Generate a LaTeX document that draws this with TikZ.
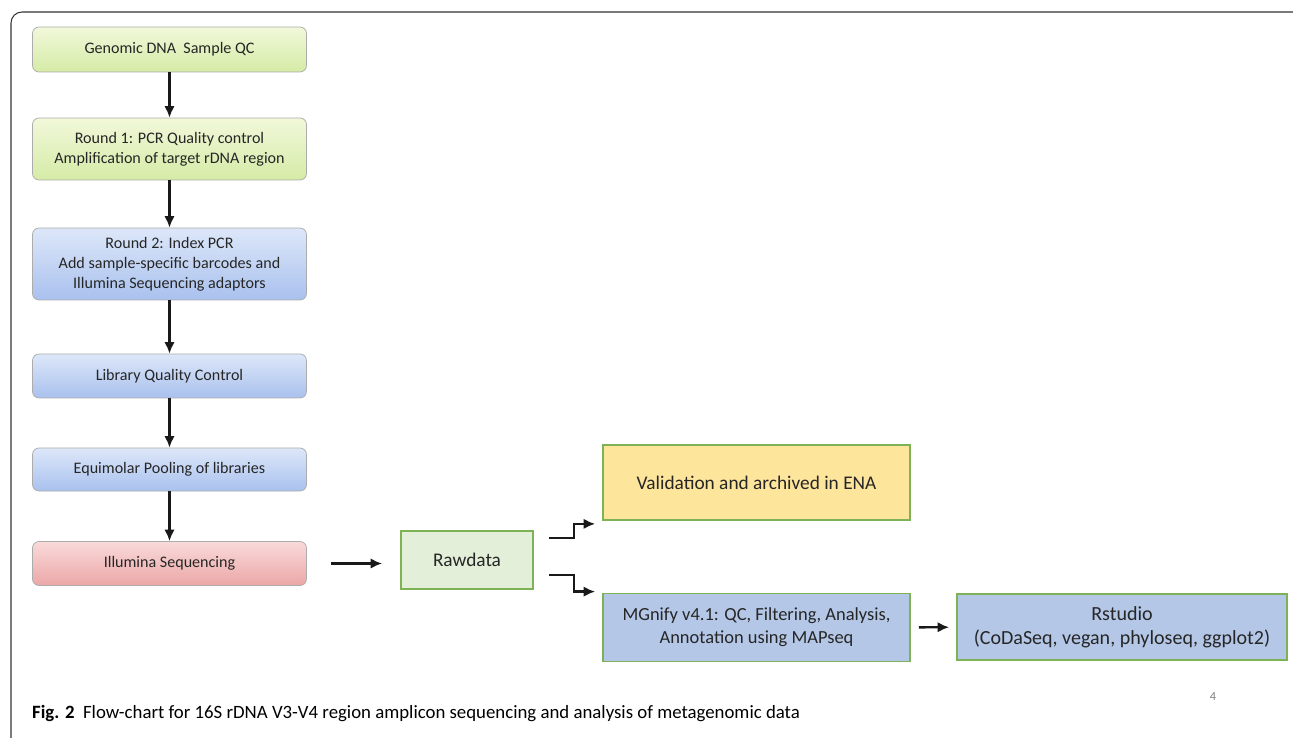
\documentclass[tikz,border=0pt]{standalone}
\usepackage{fontspec}
\setmainfont{Carlito}
\usetikzlibrary{positioning, arrows.meta}

\definecolor{stepgreenA}{HTML}{F1F8DA}
\definecolor{stepgreenB}{HTML}{D5EBA6}
\definecolor{stepblueA}{HTML}{DDE7F9}
\definecolor{stepblueB}{HTML}{A9C1EE}
\definecolor{stepredA}{HTML}{FADADA}
\definecolor{stepredB}{HTML}{EBA7A7}
\definecolor{boxgreen}{HTML}{7DB356}
\definecolor{rawfill}{HTML}{E3EFD9}
\definecolor{enafill}{HTML}{FEE59C}
\definecolor{toolfill}{HTML}{B4C7E7}

\begin{document}
\begin{tikzpicture}[>={Latex[length=2.3mm, width=2.1mm]}, line join=miter,
    every node/.style={align=center, font=\fontsize{9.15}{11.3}\selectfont, text=black!85},
    labbox/.style={draw=gray!65, rounded corners=0.13cm, minimum width=5.48cm},
    greenbox/.style={labbox, top color=stepgreenA, bottom color=stepgreenB},
    bluebox/.style={labbox, top color=stepblueA, bottom color=stepblueB},
    redbox/.style={labbox, top color=stepredA, bottom color=stepredB},
    databox/.style={draw=boxgreen, line width=1pt, font=\fontsize{11}{13.5}\selectfont},
    flow/.style={->, line width=1.4pt, black!90}]
    \useasboundingbox (0, 0) rectangle (25.86, -14.76);

    % frame
    \begin{scope}
        \clip (0, 0) rectangle (25.86, -14.76);
        \draw[line width=0.6pt, black!80, rounded corners=0.22cm] (0.22, -15) -- (0.22, -0.24) -- (26.2, -0.24) -- (26.2, -2);
    \end{scope}

    % lab steps
    \node[greenbox, minimum height=0.9cm] (gdna) at (3.39, -0.99) {Genomic DNA\ \ Sample QC};
    \node[greenbox, minimum height=1.24cm] (pcr1) at (3.39, -2.98) {Round 1: PCR Quality control\\Amplification of target rDNA region};
    \node[bluebox, minimum height=1.44cm] (pcr2) at (3.39, -5.28) {Round 2: Index PCR\\Add sample-specific barcodes and\\Illumina Sequencing adaptors};
    \node[bluebox, minimum height=0.88cm] (libqc) at (3.39, -7.52) {Library Quality Control};
    \node[bluebox, minimum height=0.86cm] (pool) at (3.39, -9.39) {Equimolar Pooling of libraries};
    \node[redbox, minimum height=0.88cm] (seq) at (3.39, -11.27) {Illumina Sequencing};

    \draw[flow] (gdna) -- (pcr1);
    \draw[flow] (pcr1) -- (pcr2);
    \draw[flow] (pcr2) -- (libqc);
    \draw[flow] (libqc) -- (pool);
    \draw[flow] (pool) -- (seq);

    % data steps
    \node[databox, fill=rawfill, minimum width=2.64cm, minimum height=1.16cm] (raw) at (9.34, -11.2) {Rawdata};
    \node[databox, fill=enafill, minimum width=6.14cm, minimum height=1.5cm] (ena) at (15.13, -9.65) {Validation and archived in ENA};
    \node[databox, fill=toolfill, minimum width=6.14cm, minimum height=1.36cm, font=\fontsize{10.5}{13}\selectfont] (mgnify) at (15.13, -12.55) {MGnify v4.1: QC, Filtering, Analysis,\\Annotation using MAPseq};
    \node[databox, fill=toolfill, minimum width=6.6cm, minimum height=1.32cm, font=\fontsize{11.4}{13.5}\selectfont] (rstudio) at (22.44, -12.54) {Rstudio\\(CoDaSeq, vegan, phyloseq, ggplot2)};

    \draw[flow, shorten <=0.48cm, shorten >=0.36cm] (seq.east) -- (raw.west |- seq.east);
    \draw[flow] ([shift={(0.3, 0.44)}]raw.east) -- ++(0.5, 0) |- ([shift={(-0.14, -0.06)}]ena.south west);
    \draw[flow] ([shift={(0.3, -0.3)}]raw.east) -- ++(0.5, 0) |- ([shift={(-0.14, 0.02)}]mgnify.north west);
    \draw[flow, shorten <=0.16cm, shorten >=0.14cm] (mgnify) -- (rstudio);

    % caption
    \node[anchor=west, text=black, font=\fontsize{10.7}{12}\selectfont] (caption) at (0.52, -14.27) {\textbf{Fig. 2}\ \ Flow-chart for 16S rDNA V3-V4 region amplicon sequencing and analysis of metagenomic data};
    \node[text=gray, font=\fontsize{7}{8}\selectfont] (pagenum) at (24.26, -13.94) {4};
\end{tikzpicture}
\end{document}
